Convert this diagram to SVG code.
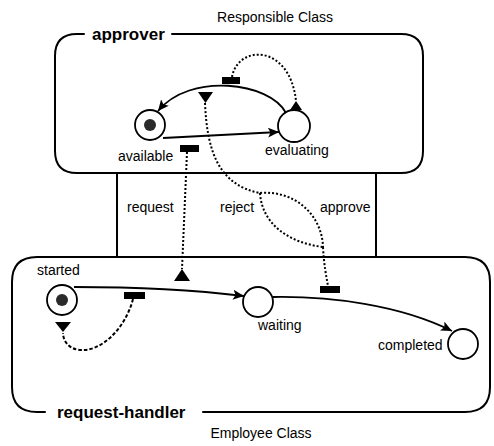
<svg xmlns="http://www.w3.org/2000/svg" width="494" height="446" viewBox="0 0 494 446">
  <defs>
    <style>
      .frame { fill: none; stroke: #000; stroke-width: 2; stroke-linecap: round; }
      .state { fill: #fff; stroke: #000; stroke-width: 1.8; }
      .dot { fill: #2a2a2a; }
      .trans { fill: none; stroke: #000; stroke-width: 1.8; }
      .event { fill: none; stroke: #000; stroke-width: 2; stroke-dasharray: 2 2; }
      .dash { fill: none; stroke: #000; stroke-width: 2; stroke-dasharray: 3.5 2; }
      .bar { fill: #000; }
      .tri { fill: #000; }
      .lbl { font-family: "Liberation Sans", Arial, sans-serif; font-size: 14px; fill: #000; }
      .title { font-family: "Liberation Sans", Arial, sans-serif; font-size: 17px; font-weight: bold; fill: #000; }
    </style>
    <marker id="arrow" markerUnits="userSpaceOnUse" markerWidth="12" markerHeight="10" refX="11" refY="5" orient="auto">
      <path d="M0,0 L11,5 L0,10 L2.5,5 z" fill="#000"/>
    </marker>
  </defs>

  <!-- class captions -->
  <text class="lbl" x="275" y="22" text-anchor="middle">Responsible Class</text>
  <text class="lbl" x="261" y="438" text-anchor="middle">Employee Class</text>

  <!-- approver frame (gap in the top edge for its name) -->
  <g id="approver">
    <path class="frame" d="M84 34 L77 34 Q55 34 55 56 L55 151 Q55 173 77 173 L401 173 Q423 173 423 151 L423 56 Q423 34 401 34 L172 34"/>
    <text class="title" x="92" y="40">approver</text>
  </g>

  <!-- link band between the two frames -->
  <g id="link-band">
    <line class="frame" x1="117" y1="173" x2="117" y2="257"/>
    <line class="frame" x1="376" y1="173" x2="376" y2="257"/>
    <text class="lbl" x="127" y="212">request</text>
    <text class="lbl" x="220" y="212">reject</text>
    <text class="lbl" x="320" y="212">approve</text>
  </g>

  <!-- request-handler frame (gap in the bottom edge for its name) -->
  <g id="request-handler">
    <path class="frame" d="M203 412 L465 412 Q490 412 490 387 L490 282 Q490 257 465 257 L37 257 Q12 257 12 282 L12 387 Q12 412 37 412 L45 412"/>
    <text class="title" x="57" y="418">request-handler</text>
  </g>

  <!-- states of approver -->
  <g id="available">
    <circle class="state" cx="150" cy="125" r="15"/>
    <circle class="dot" cx="150" cy="125" r="6"/>
    <text class="lbl" x="118" y="161">available</text>
  </g>
  <g id="evaluating">
    <circle class="state" cx="294" cy="126" r="16"/>
    <text class="lbl" x="265" y="155">evaluating</text>
  </g>

  <!-- states of request-handler -->
  <g id="started">
    <circle class="state" cx="62" cy="300" r="15"/>
    <circle class="dot" cx="62" cy="300" r="6"/>
    <text class="lbl" x="37" y="275">started</text>
  </g>
  <g id="waiting">
    <circle class="state" cx="258" cy="302" r="15"/>
    <text class="lbl" x="258" y="330">waiting</text>
  </g>
  <g id="completed">
    <circle class="state" cx="463" cy="344" r="15"/>
    <text class="lbl" x="378" y="350">completed</text>
  </g>

  <!-- transitions, event bars and event flows -->
  <g id="connectors">
    <!-- available -> evaluating -->
    <path class="trans" d="M163 138 L279 132" marker-end="url(#arrow)"/>
    <!-- evaluating -> available -->
    <path class="trans" d="M286 113 C270 82, 190 72, 158 111" marker-end="url(#arrow)"/>
    <!-- started -> waiting -->
    <path class="trans" d="M74 287 Q170 287 244 296" marker-end="url(#arrow)"/>
    <!-- waiting -> completed -->
    <path class="trans" d="M273 297 C330 296, 400 305, 452 331" marker-end="url(#arrow)"/>

    <!-- event bars -->
    <rect class="bar" x="222" y="77" width="18" height="7"/>
    <rect class="bar" x="180" y="145" width="19" height="7"/>
    <rect class="bar" x="124" y="292" width="21" height="7"/>
    <rect class="bar" x="320" y="286" width="20" height="7"/>

    <!-- event triangles -->
    <path class="tri" d="M296 101 L302 110 L290 110 z"/>
    <path class="tri" d="M198 92 L213 92 L205.5 103 z"/>
    <path class="tri" d="M182 269 L190 281 L174 281 z"/>
    <path class="tri" d="M55 322 L71 322 L63 332 z"/>

    <!-- bar on evaluating->available loops to evaluating -->
    <path class="event" d="M232 77 C238 44, 290 44, 296 101"/>
    <!-- request: bar under available down to request-handler -->
    <path class="event" d="M187 152 L182 269"/>
    <!-- reject / approve flow from approver down to waiting->completed bar -->
    <path class="event" d="M205 103 C207 150, 218 185, 260 193"/>
    <path class="event" d="M260 193 C262 225, 290 243, 323 247"/>
    <path class="event" d="M260 193 C295 190, 322 215, 323 247"/>
    <path class="event" d="M323 247 C324 265, 326 275, 328 286"/>
    <!-- bar on started->waiting loops back under started -->
    <path class="dash" d="M133 299 C125 330, 100 352, 80 350 C68 349, 63 340, 63 333"/>
  </g>
</svg>
